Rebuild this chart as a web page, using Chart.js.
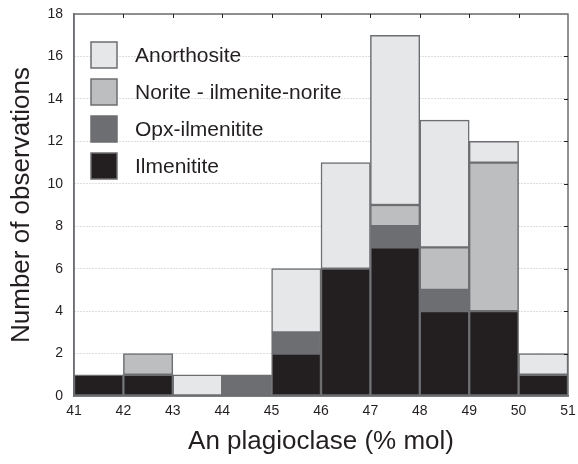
<!DOCTYPE html>
<html lang="en">
<head>
  <meta charset="UTF-8">
  <title>An plagioclase histogram</title>
  <style>
    html, body { margin: 0; padding: 0; background: #fff; }
    #wrap { width: 578px; height: 464px; }
  </style>
</head>
<body>
  <div id="wrap">
    <canvas id="canvas"></canvas>
  </div>
  <script src="https://cdn.jsdelivr.net/npm/chart.js"></script>
  <script>
    // bin centres (bins are 1 % mol wide, 41-42 ... 50-51)
    const binCentres = [41.5, 42.5, 43.5, 44.5, 45.5, 46.5, 47.5, 48.5, 49.5, 50.5];

    // counts per bin, stacked bottom to top
    const ilmenitite  = [1, 1, 0, 0, 2, 6, 7, 4, 4, 1];
    const opxIlm      = [0, 0, 0, 1, 1, 0, 1, 1, 0, 0];
    const norite      = [0, 1, 0, 0, 0, 0, 1, 2, 7, 0];
    const anorthosite = [0, 0, 1, 0, 3, 5, 8, 6, 1, 1];

    const xMin = 41, xMax = 51;
    const yMin = 0, yMax = 18, yStep = 2;

    const edge = '#6d6e71';
    const ink = '#231f20';
    const font = "'Liberation Sans', Arial, sans-serif";

    const toPoints = (arr) => binCentres.map((x, i) => ({ x: x, y: arr[i] === 0 ? null : arr[i] }));

    const series = [
      { label: 'Ilmenitite', values: ilmenitite, color: '#231f20' },
      { label: 'Opx-ilmenitite', values: opxIlm, color: '#6d6e71' },
      { label: 'Norite - ilmenite-norite', values: norite, color: '#bcbec0' },
      { label: 'Anorthosite', values: anorthosite, color: '#e6e7e8' }
    ];

    // frame on top/right with small inward ticks, like the original
    const framePlugin = {
      id: 'frame',
      afterDatasetsDraw(chart) {
        const { ctx, chartArea: a, scales } = chart;
        ctx.save();
        ctx.strokeStyle = edge;
        ctx.lineWidth = 1.5;
        ctx.strokeRect(a.left, a.top, a.right - a.left, a.bottom - a.top);
        ctx.lineWidth = 1;
        ctx.strokeStyle = ink;
        for (let v = xMin + 1; v < xMax; v++) {
          const px = Math.round(scales.x.getPixelForValue(v)) + 0.5;
          ctx.beginPath();
          ctx.moveTo(px, a.top);
          ctx.lineTo(px, a.top + 4);
          ctx.stroke();
        }
        for (let v = yMin + yStep; v < yMax; v += yStep) {
          const py = Math.round(scales.y.getPixelForValue(v)) + 0.5;
          ctx.beginPath();
          ctx.moveTo(a.right, py);
          ctx.lineTo(a.right - 4, py);
          ctx.stroke();
        }
        ctx.restore();
      }
    };

    // legend inside the plot, top-left, top entry = top of stack
    const legendPlugin = {
      id: 'innerLegend',
      afterDraw(chart) {
        const { ctx, chartArea: a } = chart;
        const items = chart.data.datasets.slice().reverse();
        ctx.save();
        ctx.font = '21px ' + font;
        ctx.textBaseline = 'middle';
        items.forEach((ds, i) => {
          const bx = a.left + 17, by = a.top + 28 + i * 37;
          ctx.fillStyle = ds.backgroundColor;
          ctx.fillRect(bx, by, 26, 26);
          ctx.strokeStyle = edge;
          ctx.lineWidth = 1.5;
          ctx.strokeRect(bx, by, 26, 26);
          ctx.fillStyle = ink;
          ctx.fillText(ds.label, a.left + 61, by + 14);
        });
        ctx.restore();
      }
    };

    const data = {
      datasets: series.map((s) => ({
        label: s.label,
        data: toPoints(s.values),
        backgroundColor: s.color,
        borderColor: edge,
        borderWidth: 1.5,
        borderSkipped: false,
        barPercentage: 1,
        categoryPercentage: 1
      }))
    };

    const config = {
      type: 'bar',
      data: data,
      options: {
        responsive: true,
        maintainAspectRatio: false,
        animation: false,
        layout: { padding: { top: 14, right: 10, left: 0, bottom: 0 } },
        plugins: {
          legend: { display: false },
          tooltip: { enabled: false }
        },
        scales: {
          x: {
            type: 'linear',
            stacked: true,
            offset: false,
            min: xMin,
            max: xMax,
            grid: { display: false, offset: false, drawTicks: false },
            border: { display: true, color: edge, width: 1.5 },
            ticks: { stepSize: 1, padding: 7, color: ink, font: { family: font, size: 14 } },
            title: {
              display: true,
              text: 'An plagioclase (% mol)',
              color: ink,
              font: { family: font, size: 26 },
              padding: { top: 0, bottom: 7 }
            },
            afterFit(scale) {
              scale.height = 68;
              scale.paddingLeft = 0;
              scale.paddingRight = 0;
            }
          },
          y: {
            stacked: true,
            min: yMin,
            max: yMax,
            grid: {
              color: '#bdbdbd',
              lineWidth: 1,
              drawTicks: false
            },
            border: { display: true, color: edge, width: 1.5, dash: [1, 2] },
            ticks: { stepSize: yStep, padding: 11, color: ink, font: { family: font, size: 14 } },
            title: {
              display: true,
              text: 'Number of observations',
              color: ink,
              font: { family: font, size: 26 },
              padding: { top: 6, bottom: 0 }
            },
            afterFit(scale) {
              scale.width = 74;
              scale.paddingTop = 0;
              scale.paddingBottom = 0;
            }
          }
        }
      },
      plugins: [framePlugin, legendPlugin]
    };

    const canvas = document.querySelector('#canvas');
    const myChart = new Chart(canvas, config);
  </script>
</body>
</html>
